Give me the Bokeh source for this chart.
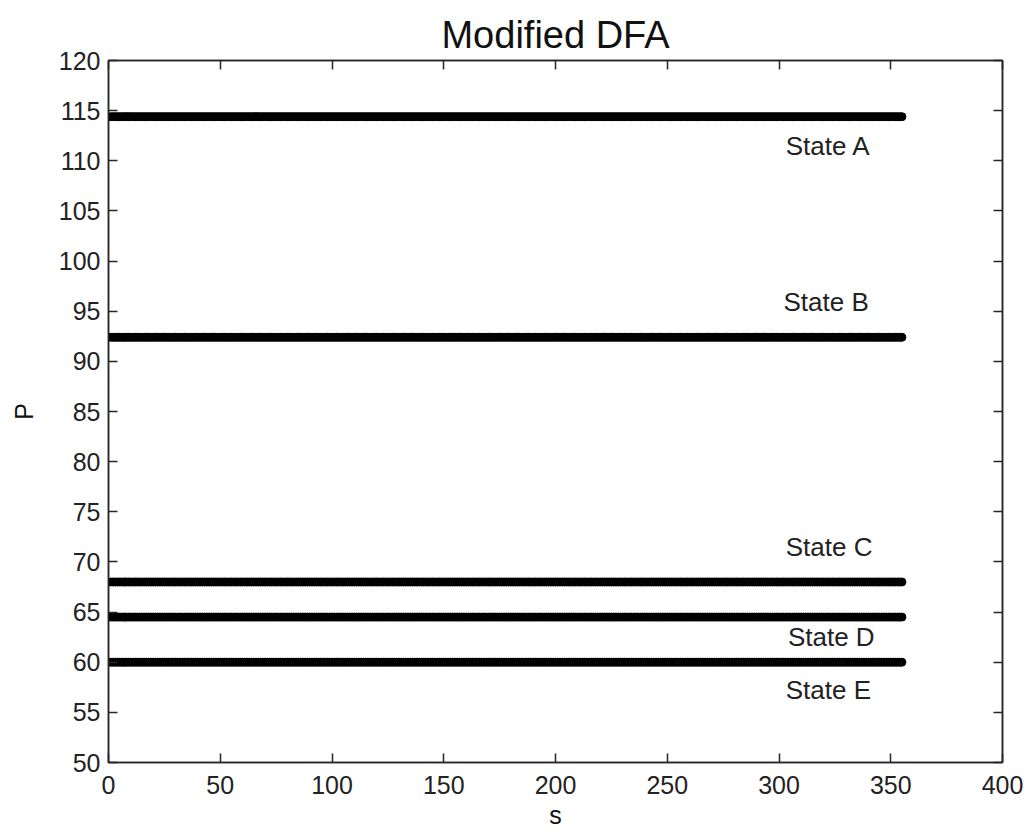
from bokeh.plotting import figure
from bokeh.models import LinearAxis, FixedTicker, ColumnDataSource, Range1d
from bokeh.core.properties import value
from bokeh.embed import file_html
from bokeh.resources import INLINE

# ---- data ----
s_values = list(range(1, 356))
state_names = ["State A", "State B", "State C", "State D", "State E"]
state_P = [114.4, 92.4, 68.0, 64.5, 60.0]
label_s = [303, 302, 303, 304, 303]
label_P = [111.5, 95.9, 71.5, 62.5, 57.2]
x_ticks = [0, 50, 100, 150, 200, 250, 300, 350, 400]
y_ticks = [50, 55, 60, 65, 70, 75, 80, 85, 90, 95, 100, 105, 110, 115, 120]
title_text = "Modified DFA"

FONT = "Liberation Sans"

p = figure(width=1035, height=835, output_backend="svg", toolbar_location=None,
           x_range=Range1d(0, 400), y_range=Range1d(50, 120),
           min_border_left=108, min_border_right=33, min_border_top=60, min_border_bottom=73,
           x_axis_label="s", y_axis_label="P", title=title_text)

p.xgrid.visible = False
p.ygrid.visible = False
p.outline_line_color = "#262626"
p.outline_line_width = 1.5
p.background_fill_color = "white"
p.border_fill_color = "white"

p.title.align = "center"
p.title.text_font = FONT
p.title.text_font_size = "38px"
p.title.text_font_style = "normal"
p.title.text_color = "#111111"
p.title.standoff = 10

for ax in (p.xaxis[0], p.yaxis[0]):
    ax.major_tick_in = 9
    ax.major_tick_out = 0
    ax.minor_tick_in = 0
    ax.minor_tick_out = 0
    ax.axis_line_color = "#262626"
    ax.axis_line_width = 1.5
    ax.major_tick_line_color = "#262626"
    ax.major_tick_line_width = 1.5
    ax.major_label_text_font = FONT
    ax.major_label_text_font_size = "25px"
    ax.major_label_text_color = "#222222"
    ax.axis_label_text_font = FONT
    ax.axis_label_text_font_size = "25px"
    ax.axis_label_text_font_style = "normal"
    ax.axis_label_text_color = "#111111"

p.xaxis[0].ticker = FixedTicker(ticks=x_ticks)
p.yaxis[0].ticker = FixedTicker(ticks=y_ticks)
p.xaxis[0].major_label_standoff = 13
p.yaxis[0].major_label_standoff = 8
p.xaxis[0].axis_label_standoff = 4
p.yaxis[0].axis_label_standoff = 18

top_ax = LinearAxis(ticker=FixedTicker(ticks=x_ticks))
right_ax = LinearAxis(ticker=FixedTicker(ticks=y_ticks))
for ax in (top_ax, right_ax):
    ax.major_tick_in = 9
    ax.major_tick_out = 0
    ax.minor_tick_in = 0
    ax.minor_tick_out = 0
    ax.major_label_text_font_size = "0px"
    ax.major_label_text_alpha = 0
    ax.axis_line_color = "#262626"
    ax.axis_line_width = 1.5
    ax.major_tick_line_color = "#262626"
    ax.major_tick_line_width = 1.5
p.add_layout(top_ax, "above")
p.add_layout(right_ax, "right")

for name, pv in zip(state_names, state_P):
    src = ColumnDataSource(dict(s=s_values, P=[pv] * len(s_values)))
    p.scatter("s", "P", source=src, size=8, marker="circle",
              fill_color="black", line_color="black", line_width=1)

lab_src = ColumnDataSource(dict(x=label_s, y=label_P, t=state_names))
p.text("x", "y", text="t", source=lab_src, text_font=value(FONT),
       text_font_size="26px", text_align="left", text_baseline="middle",
       text_color="#222222")

open("out.html", "w").write(file_html(p, INLINE))
